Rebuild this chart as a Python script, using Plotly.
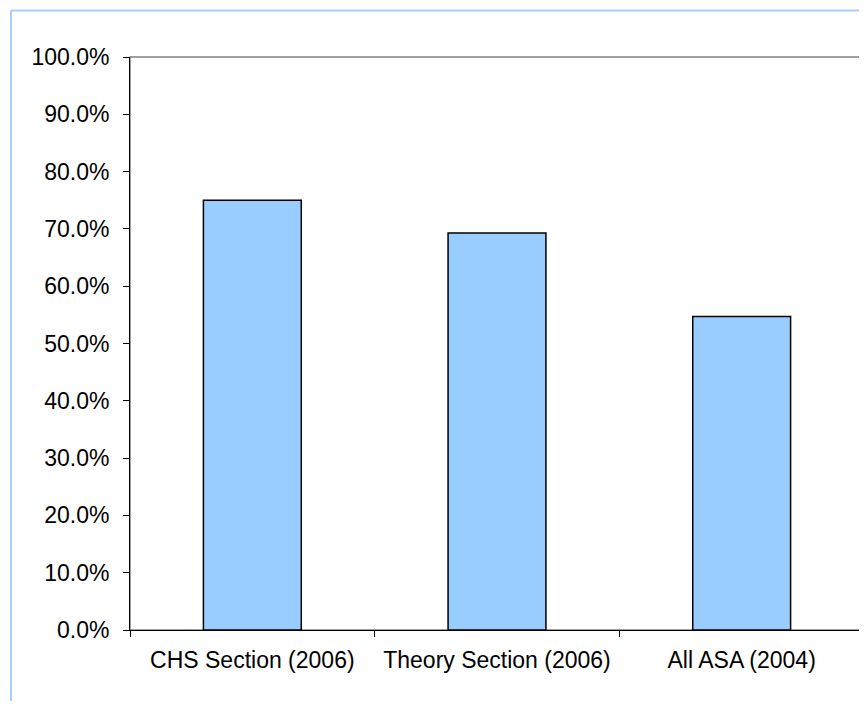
import plotly.graph_objects as go

categories = ["CHS Section (2006)", "Theory Section (2006)", "All ASA (2004)"]
values = [0.750, 0.693, 0.547]
y_ticks = [i / 10 for i in range(11)]

W, H = 859, 693
L, T = 122, 49
pw, ph = 734, 573
R = W - L - pw
B = H - T - ph

fig = go.Figure(
    go.Bar(
        x=categories,
        y=values,
        marker=dict(color="#99CCFF", line=dict(color="#000000", width=1.5)),
        width=0.4,
    )
)

font = dict(family="Liberation Sans, Arial, sans-serif", size=23, color="#000000")

fx = (3 - L) / pw          # outer frame left edge (figure px 3)
fy = (H - B - 2.5) / ph    # outer frame top edge (figure px 2.5)

fig.update_layout(
    width=W,
    height=H,
    margin=dict(l=L, r=R, t=T, b=B, pad=0),
    paper_bgcolor="#FFFFFF",
    plot_bgcolor="#FFFFFF",
    showlegend=False,
    font=font,
    xaxis=dict(
        type="category",
        range=[-0.5, 2.5],
        showline=True,
        linecolor="#000000",
        linewidth=1,
        ticks="outside",
        tickson="boundaries",
        ticklen=6,
        tickcolor="#000000",
        showgrid=False,
        zeroline=False,
        ticklabelstandoff=9,
    ),
    yaxis=dict(
        range=[0, 1],
        tickvals=y_ticks,
        tickformat=".1%",
        showline=True,
        linecolor="#000000",
        linewidth=1,
        ticks="outside",
        ticklen=6,
        tickcolor="#000000",
        showgrid=False,
        zeroline=False,
        ticklabelstandoff=9,
    ),
    shapes=[
        dict(type="rect", xref="paper", yref="paper", x0=0, x1=1, y0=0, y1=1,
             line=dict(color="#808080", width=1.5), layer="below"),
        dict(type="line", xref="paper", yref="paper",
             x0=fx, x1=1.3, y0=fy, y1=fy,
             line=dict(color="#A6CFFF", width=2)),
        dict(type="line", xref="paper", yref="paper",
             x0=fx, x1=fx, y0=fy, y1=-0.4,
             line=dict(color="#A6CFFF", width=2)),
    ],
)

fig.write_html("out.html")
